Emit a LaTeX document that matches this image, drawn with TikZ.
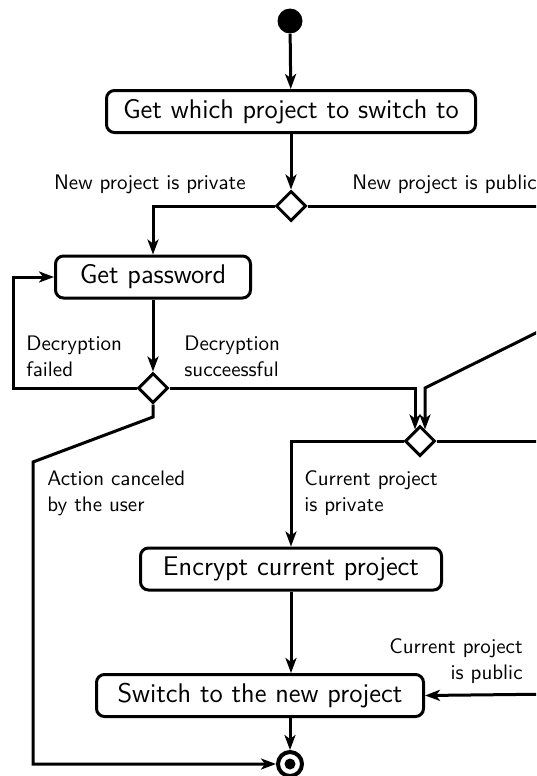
\documentclass[tikz,border=0pt]{standalone}
\usepackage{fontspec}
\usetikzlibrary{arrows.meta,shapes.geometric,calc}
\begin{document}
\begin{tikzpicture}[x=0.5pt,y=-0.5pt,
  act/.style={draw, rounded corners=4pt, line width=1.5pt, inner sep=0pt,
    minimum height=21pt, font=\sffamily\fontsize{13.5}{15}\selectfont},
  dec/.style={draw, diamond, line width=1.5pt, minimum width=15pt,
    minimum height=15pt, inner sep=0pt, fill=white},
  flow/.style={line width=1.5pt, -{Stealth[length=7.5pt,width=5.5pt,inset=2pt]}},
  plain/.style={line width=1.5pt},
  lbl/.style={font=\sffamily\fontsize{10.5}{13}\selectfont, inner sep=0pt, align=left}]
\useasboundingbox (0,0) rectangle (536,776);
\clip (0,0) rectangle (536,776);

% activities and decisions
\node[circle, fill=black, minimum size=12.5pt, inner sep=0pt] (start) at (290,21) {};
\node[act, minimum width=184.5pt] (which) at (291,111.5) {Get which project to switch to};
\node[dec] (d1) at (291,206) {};
\node[act, minimum width=97.5pt] (pw) at (153,277) {Get password};
\node[dec] (d2) at (153,388) {};
\node[dec] (d3) at (420,441) {};
\node[act, minimum width=150.5pt] (enc) at (291,569) {Encrypt current project};
\node[act, minimum width=163.5pt] (sw) at (260,695.5) {Switch to the new project};
\node[circle, draw, line width=2pt, fill=white, minimum size=12pt, inner sep=0pt] (fin) at (290,764) {};
\fill (fin.center) circle[radius=5.5];

% auxiliary points
\coordinate (loopL) at (13,388);
\coordinate (c1) at (153,417);
\coordinate (c2) at (33,462);
\coordinate (pubR) at (560,206);
\coordinate (diagR) at (560,321);
\coordinate (diagK) at (425,388);
\coordinate (d3R) at (560,441);
\coordinate (swR) at (560,694);

% connectors
\draw[flow] (start) -- (which);
\draw[flow] (which) -- (d1);
\draw[flow] (d1.west) -| (pw.north);
\draw[plain] (d1.east) -- (pubR);
\draw[flow] (pw) -- (d2);
\draw[flow] (d2.west) -- (loopL) |- (pw.west);
\draw[flow] (d2.east) -| ($(d3.north)+(-5,5)$);
\draw[flow] (diagR) -- (diagK) -- ($(d3.north)+(5,5)$);
\draw[flow] (d3.west) -| (enc.north);
\draw[plain] (d3.east) -- (d3R);
\draw[flow] (enc.south) -- (enc.south |- sw.north);
\draw[flow] (swR) -- (sw.east);
\draw[flow] (sw.south -| fin) -- (fin);
\draw[flow] (d2.south) -- (c1) -- (c2) |- (fin.west);

% guard labels
\node[lbl, anchor=east] at (246,184) {New project is private};
\node[lbl, anchor=west] at (352,184) {New project is public};
\node[lbl, anchor=west] at (26,356) {Decryption\\failed};
\node[lbl, anchor=west] at (184,356) {Decryption\\succeessful};
\node[lbl, anchor=west] at (47,493) {Action canceled\\by the user};
\node[lbl, anchor=west] at (304,493) {Current project\\is private};
\node[lbl, anchor=east, align=right] at (523,661) {Current project\\is public};
\end{tikzpicture}
\end{document}
